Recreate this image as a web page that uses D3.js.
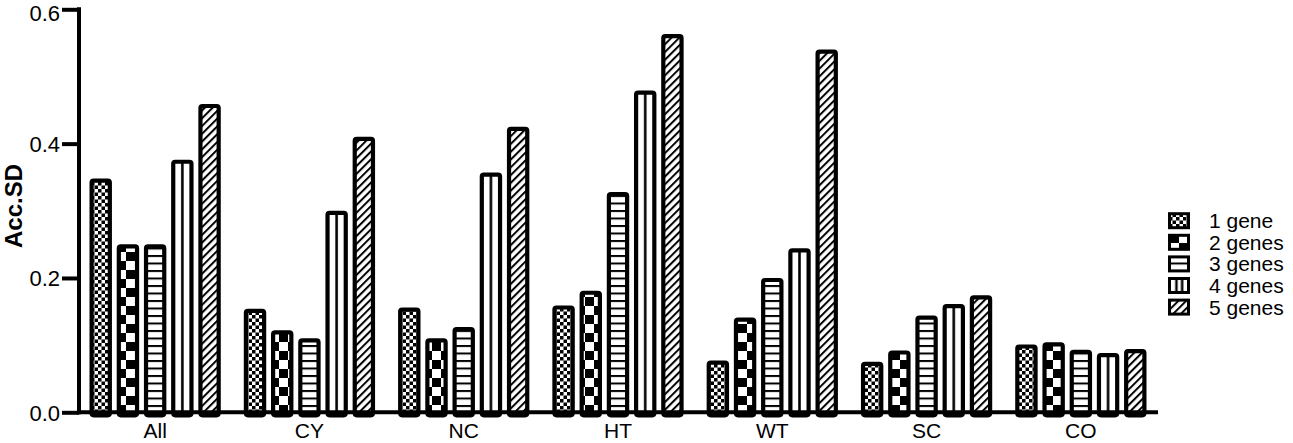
<!DOCTYPE html>
<html><head><meta charset="utf-8">
<script src="https://cdn.jsdelivr.net/npm/d3@7"></script>
<style>
html,body{margin:0;padding:0;background:#fff;}
svg{display:block;font-family:"Liberation Sans",Arial,Helvetica,sans-serif;}
</style></head>
<body>
<svg id="chart" width="1293" height="443"></svg>
<script>
const categories = ["All","CY","NC","HT","WT","SC","CO"];
const seriesNames = ["1 gene","2 genes","3 genes","4 genes","5 genes"];
const gene1 = [0.345,0.151,0.153,0.156,0.074,0.072,0.098];
const gene2 = [0.247,0.119,0.107,0.178,0.138,0.089,0.101];
const gene3 = [0.247,0.107,0.124,0.325,0.197,0.141,0.090];
const gene4 = [0.373,0.297,0.354,0.476,0.241,0.158,0.085];
const gene5 = [0.456,0.407,0.422,0.560,0.537,0.171,0.091];
const yTicks = [0.0,0.2,0.4,0.6];
const yLabel = "Acc.SD";

const seriesValues = [gene1,gene2,gene3,gene4,gene5];
const svg = d3.select("#chart");
const defs = svg.append("defs");

const p1 = defs.append("pattern").attr("id","p0").attr("patternUnits","userSpaceOnUse")
  .attr("width",7).attr("height",7);
p1.append("rect").attr("width",7).attr("height",7).attr("fill","#fff");
p1.append("rect").attr("width",3.5).attr("height",3.5).attr("fill","#000");
p1.append("rect").attr("x",3.5).attr("y",3.5).attr("width",3.5).attr("height",3.5).attr("fill","#000");
const p2 = defs.append("pattern").attr("id","p1").attr("patternUnits","userSpaceOnUse")
  .attr("width",18).attr("height",18);
p2.append("rect").attr("width",18).attr("height",18).attr("fill","#fff");
p2.append("rect").attr("width",9).attr("height",9).attr("fill","#000");
p2.append("rect").attr("x",9).attr("y",9).attr("width",9).attr("height",9).attr("fill","#000");
const p3 = defs.append("pattern").attr("id","p2").attr("patternUnits","userSpaceOnUse")
  .attr("width",10).attr("height",7.5);
p3.append("rect").attr("width",10).attr("height",7.5).attr("fill","#fff");
p3.append("rect").attr("width",10).attr("height",2).attr("fill","#000");
const p4 = defs.append("pattern").attr("id","p3").attr("patternUnits","objectBoundingBox")
  .attr("patternContentUnits","objectBoundingBox").attr("width",1).attr("height",1);
p4.append("rect").attr("width",1).attr("height",1).attr("fill","#fff");
p4.append("rect").attr("x",0.43).attr("width",0.14).attr("height",1).attr("fill","#000");
const p5 = defs.append("pattern").attr("id","p4").attr("patternUnits","userSpaceOnUse")
  .attr("width",5.5).attr("height",5.5).attr("patternTransform","rotate(45)");
p5.append("rect").attr("width",5.5).attr("height",5.5).attr("fill","#fff");
p5.append("rect").attr("width",2).attr("height",5.5).attr("fill","#000");
const p4L = defs.append("pattern").attr("id","p3L").attr("patternUnits","objectBoundingBox")
  .attr("patternContentUnits","objectBoundingBox").attr("width",1).attr("height",1);
p4L.append("rect").attr("width",1).attr("height",1).attr("fill","#fff");
p4L.append("rect").attr("x",0.3).attr("width",0.13).attr("height",1).attr("fill","#000");
p4L.append("rect").attr("x",0.6).attr("width",0.13).attr("height",1).attr("fill","#000");

const y = d3.scaleLinear().domain([0,0.6]).range([412.3,9.3]);
const x0 = d3.scaleBand().domain(categories).range([78,1158]).paddingInner(0).paddingOuter(0);
const x1 = d3.scaleBand().domain(d3.range(5)).range([0,x0.bandwidth()]).paddingInner(0.33).paddingOuter(0.5);

const data = [];
categories.forEach((c,ci)=>{
  seriesValues.forEach((arr,si)=>data.push({c,si,v:arr[ci]}));
});

svg.append("g").selectAll("rect").data(data).join("rect")
  .attr("x",d=>x0(d.c)+x1(d.si))
  .attr("y",d=>y(d.v))
  .attr("width",x1.bandwidth())
  .attr("height",d=>y(0)-y(d.v)+3)
  .attr("rx",2).attr("ry",2)
  .attr("fill",d=>`url(#p${d.si})`)
  .attr("stroke","#000").attr("stroke-width",4.2);

const xAxis = svg.append("g").attr("transform",`translate(0,${y(0)})`)
  .call(d3.axisBottom(x0).tickSize(0).tickSizeOuter(0));
xAxis.select(".domain").attr("d",`M77,0H1158`).attr("stroke","#000").attr("stroke-width",4);
xAxis.selectAll("text").attr("font-size","21px").attr("fill","#000").attr("dy",0).attr("y",26)
  .attr("font-family","'Liberation Sans',Arial,sans-serif");

const yAxis = svg.append("g").attr("transform","translate(79,0)")
  .call(d3.axisLeft(y).tickValues(yTicks).tickFormat(d3.format(".1f")).tickSize(17).tickSizeOuter(0));
yAxis.select(".domain").attr("d",`M0,${y(0.6)-2}V${y(0)+2}`).attr("stroke","#000").attr("stroke-width",4);
yAxis.selectAll(".tick line").attr("stroke","#000").attr("stroke-width",4);
yAxis.selectAll("text").attr("font-size","22px").attr("fill","#000").attr("x",-19)
  .attr("dy",d=>d===0.6?"0.5em":"0.36em")
  .attr("font-family","'Liberation Sans',Arial,sans-serif");

svg.append("text").attr("transform","translate(22,206) rotate(-90)")
  .attr("text-anchor","middle").attr("font-size","24px").attr("font-weight","bold").text(yLabel);

const leg = svg.append("g");
seriesNames.forEach((n,i)=>{
  const cy = 220.7 + i*21.6;
  leg.append("rect").attr("x",1169.5).attr("y",cy-7).attr("width",19).attr("height",14)
    .attr("fill",i===3?"url(#p3L)":`url(#p${i})`).attr("stroke","#000").attr("stroke-width",3);
  leg.append("text").attr("x",1209).attr("y",cy).attr("dy","0.36em").attr("font-size","21px").text(n);
});
</script>
</body></html>
